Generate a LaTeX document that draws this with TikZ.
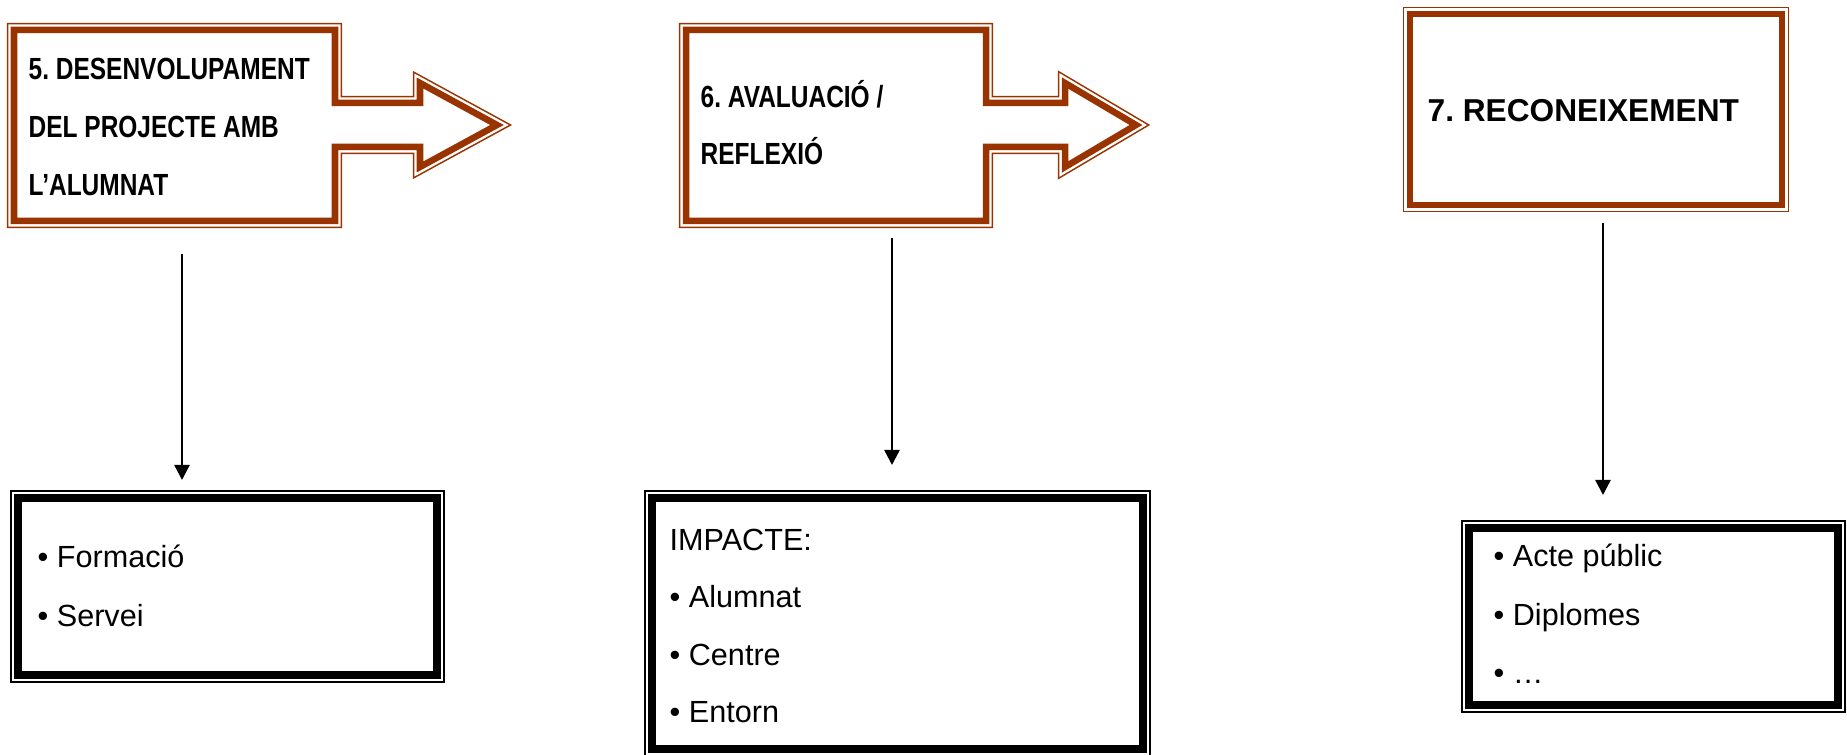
\documentclass[tikz,border=0pt]{standalone}
\usepackage{fontspec}
\setmainfont{Liberation Sans}
\newfontfamily\condbf[FakeStretch=0.8]{Liberation Sans Bold}
\usetikzlibrary{arrows.meta}
\definecolor{frameBrown}{RGB}{153,51,0}
\frenchspacing
\tikzset{
  band/.style n args={4}{preaction={draw=#1,line width=#2},preaction={draw=white,line width=#3},draw=#1,line width=#4,fill=white,line join=miter},
  brownband/.style={band={frameBrown}{4.1pt}{3.2pt}{1.85pt}},
  blackband/.style={band={black}{4.27pt}{3.41pt}{2.28pt}},
  steptitle/.style={anchor=west,inner sep=0pt,align=left,font=\condbf\fontsize{8.7}{16.5}\selectfont},
  itemlist/.style={anchor=west,inner sep=0pt,align=left,font=\fontsize{8.7}{16.8}\selectfont},
  conn/.style={line width=0.7pt,-{Triangle[width=4.3pt,length=4.3pt]}}
}
\begin{document}
\begin{tikzpicture}[x=0.01cm,y=-0.01cm]
\useasboundingbox (0,0) rectangle (1847,755);
% top row: the three steps
\path[brownband] (14,30) -- (335,30) -- (335,103) -- (420,103) -- (420,83) -- (497,125)
  -- (420,167) -- (420,147) -- (335,147) -- (335,221) -- (14,221) -- cycle;
\path[brownband] (686,30) -- (986,30) -- (986,103) -- (1065,103) -- (1065,83) -- (1136,125)
  -- (1065,167) -- (1065,147) -- (986,147) -- (986,221) -- (686,221) -- cycle;
\path[brownband] (1410,14) rectangle (1782,205);
\node[steptitle] (desenv) at (28,127) {5. DESENVOLUPAMENT\\DEL PROJECTE AMB\\L’ALUMNAT};
\node[steptitle,font=\condbf\fontsize{8.7}{16.2}\selectfont] (aval) at (700,123) {6. AVALUACIÓ /\\REFLEXIÓ};
\node[steptitle,font=\bfseries\fontsize{9}{11}\selectfont] (recon) at (1427,111) {7. RECONEIXEMENT};
% bottom row: what each step gives
\path[blackband] (18,498) rectangle (437,675);
\path[blackband] (652,498) rectangle (1143,749);
\path[blackband] (1469,528) rectangle (1838,705);
\node[itemlist] (formacio) at (37,586) {• Formació\\• Servei};
\node[itemlist,font=\fontsize{8.7}{16.3}\selectfont] (impacte) at (669,626) {IMPACTE:\\• Alumnat\\• Centre\\• Entorn};
\node[itemlist,font=\fontsize{8.7}{16.6}\selectfont] (acte) at (1493,614) {• Acte públic\\• Diplomes\\• …};
% arrows down
\coordinate (top1) at (182,254);  \coordinate (bot1) at (182,480);
\coordinate (top2) at (892,238);  \coordinate (bot2) at (892,465);
\coordinate (top3) at (1603,223); \coordinate (bot3) at (1603,495);
\draw[conn] (top1) -- (bot1);
\draw[conn] (top2) -- (bot2);
\draw[conn] (top3) -- (bot3);
\end{tikzpicture}
\end{document}
